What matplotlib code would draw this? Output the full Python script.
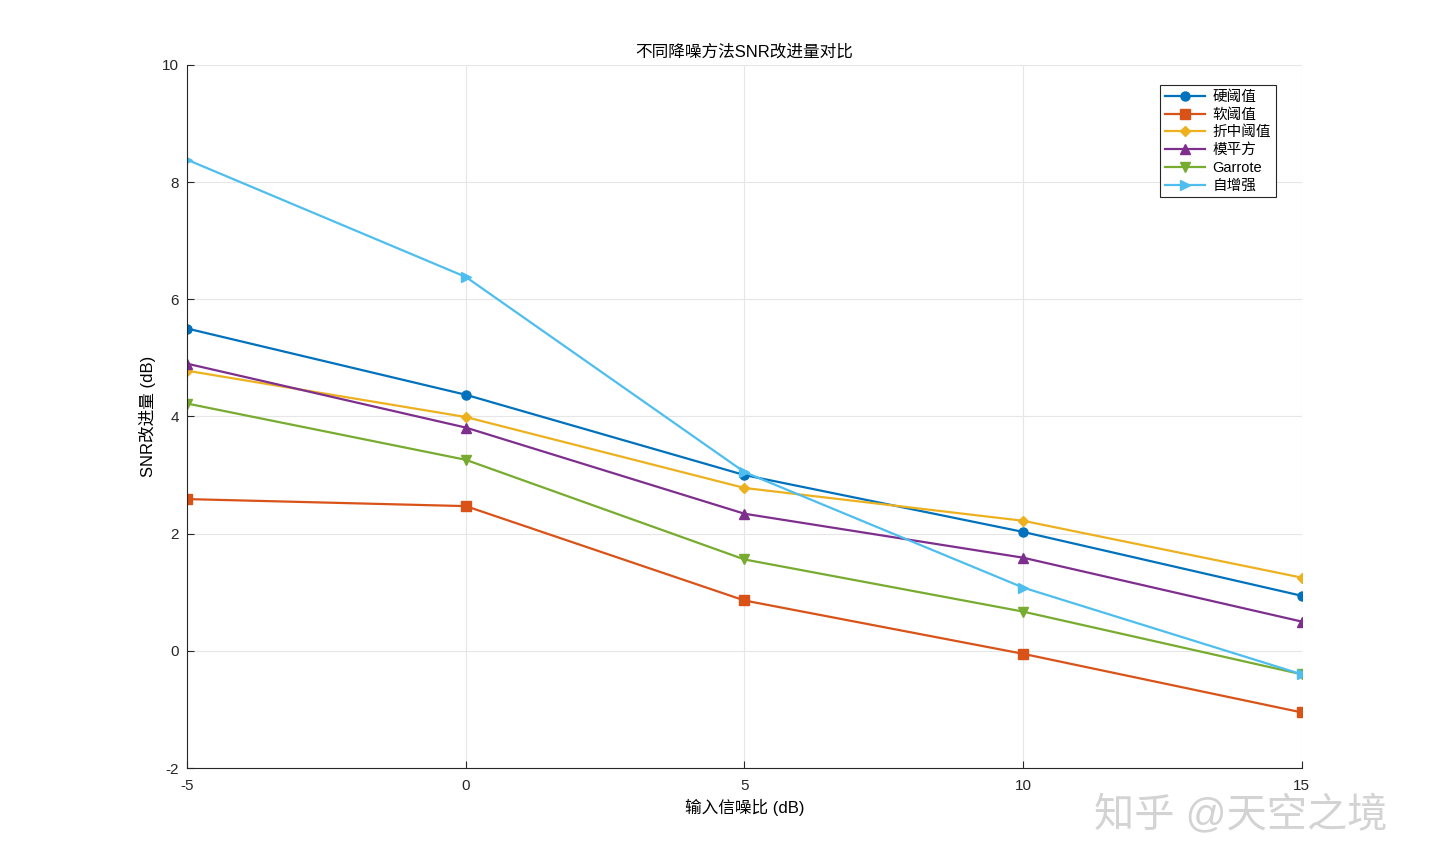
import matplotlib
matplotlib.use("Agg")
import matplotlib.pyplot as plt

plt.rcParams["font.family"] = ["Liberation Sans", "Noto Sans CJK SC", "DejaVu Sans"]
plt.rcParams["axes.unicode_minus"] = False

snr_in = [-5, 0, 5, 10, 15]
hard = [5.50, 4.37, 3.00, 2.03, 0.94]
soft = [2.59, 2.47, 0.86, -0.05, -1.05]
compromise = [4.78, 3.99, 2.78, 2.22, 1.25]
mod_square = [4.90, 3.81, 2.34, 1.59, 0.50]
garrote = [4.22, 3.26, 1.56, 0.67, -0.40]
self_enh = [8.38, 6.38, 3.05, 1.08, -0.40]

series = [
    ("硬阈值", hard, "#0072BD", "o"),
    ("软阈值", soft, "#D95319", "s"),
    ("折中阈值", compromise, "#EDB120", "D"),
    ("模平方", mod_square, "#7E2F8E", "^"),
    ("Garrote", garrote, "#77AC30", "v"),
    ("自增强", self_enh, "#4DBEEE", ">"),
]

fig = plt.figure(figsize=(14.4, 8.64), dpi=100)
ax = fig.add_axes([0.130, 0.111, 0.774, 0.814])

for name, vals, color, marker in series:
    ms = 5.5 if marker == "D" else 6.5
    ax.plot(snr_in, vals, color=color, marker=marker, markersize=ms,
            linewidth=1.6, label=name)

ax.set_xlim(-5, 15)
ax.set_ylim(-2, 10)
ax.set_xticks([-5, 0, 5, 10, 15])
ax.set_yticks(range(-2, 11, 2))
ax.grid(True, color="#e6e6e6", linewidth=0.8)
ax.set_axisbelow(True)
for side in ["top", "right"]:
    ax.spines[side].set_visible(False)
for side in ["left", "bottom"]:
    ax.spines[side].set_color("#262626")
    ax.spines[side].set_linewidth(0.8)
ax.tick_params(direction="in", length=5, labelsize=11, colors="#262626")
ax.tick_params(axis="x", pad=8)
ax.tick_params(axis="y", pad=6)

ax.set_title("不同降噪方法SNR改进量对比", fontsize=12, pad=6)
ax.set_xlabel("输入信噪比 (dB)", fontsize=12, labelpad=4)
ax.set_ylabel("SNR改进量 (dB)", fontsize=12)

leg = ax.legend(loc="upper right", bbox_to_anchor=(0.983, 0.981), fontsize=10.5,
                fancybox=False, framealpha=1, edgecolor="#262626",
                handlelength=2.8, borderpad=0.3, labelspacing=0.26,
                handletextpad=0.5)
leg.get_frame().set_linewidth(0.8)

# watermark in the lower right corner
fig.text(0.76, 0.058, "知乎 @天空之境", fontsize=29, color="#c8c8c8",
         alpha=0.8, ha="left", va="center")

fig.savefig("out.png", dpi=100)
